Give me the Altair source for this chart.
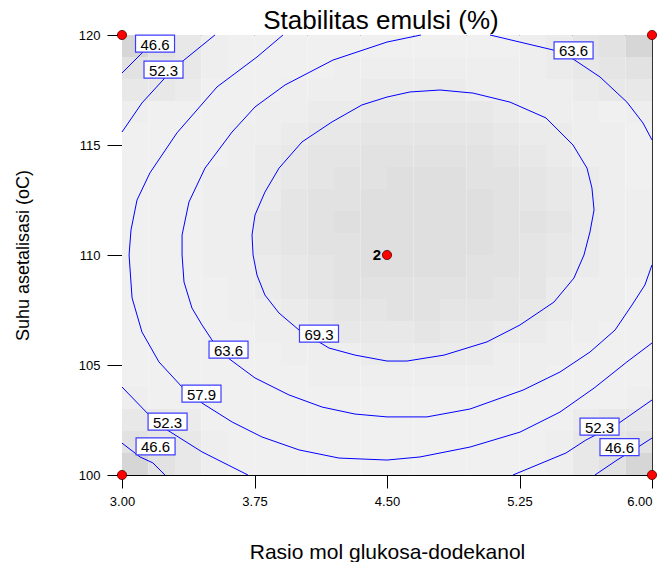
import altair as alt
import pandas as pd

# ---------------- data ----------------
TITLE = "Stabilitas emulsi (%)"
X_TITLE = "Rasio mol glukosa-dodekanol"
Y_TITLE = "Suhu asetalisasi (oC)"

x_ticks = [3.00, 3.75, 4.50, 5.25, 6.00]
y_ticks = [100, 105, 110, 115, 120]
x_domain = [3.0, 6.0]
y_domain = [100.0, 120.0]

# background shading, 20 x 20 cells (top row = 120 side); digit = gray level
shade_rows = [
    "13578888888888876431",
    "34578888777777776543",
    "55688877766667777655",
    "78888776655555677787",
    "88887765544444566778",
    "88887654433333456778",
    "88877654332223345678",
    "88877643322222345677",
    "88877543222222334677",
    "88877543322222345677",
    "88877654322223345677",
    "88887654333333446778",
    "88887765443344456778",
    "88888776555455667788",
    "88888877766666777888",
    "88888887777777778888",
    "78888888888888888887",
    "55688888888888888655",
    "34578888888888887543",
    "13578888888888887531",
]
gray_levels = ["#d2d2d2", "#d6d6d6", "#dfdfdf", "#e2e2e2", "#e5e5e5",
               "#e8e8e8", "#ebebeb", "#eeeeee", "#f0f0f0", "#f2f2f2"]

# contour pieces (x = rasio mol, y = suhu)
c466_top_left = [(3.000, 118.27), (3.119, 119.23), (3.215, 120.0)]
c523_top_left = [(3.000, 115.59), (3.113, 116.91), (3.243, 118.05), (3.351, 118.86), (3.526, 120.0)]
c579 = [(3.911, 120.0), (3.764, 119.0), (3.538, 117.64), (3.311, 115.55), (3.158, 113.73),
        (3.085, 112.5), (3.051, 111.14), (3.040, 110.0), (3.057, 108.05), (3.113, 106.5),
        (3.209, 105.14), (3.340, 104.0), (3.453, 103.27), (3.623, 102.41), (3.792, 101.73),
        (4.002, 101.14), (4.228, 100.77), (4.500, 100.68), (4.687, 100.82), (4.970, 101.27),
        (5.253, 101.95), (5.479, 102.86), (5.672, 103.95), (5.858, 105.14), (6.000, 106.0)]
c523_bottom_left = [(3.000, 104.0), (3.142, 102.82), (3.255, 102.05), (3.453, 101.05), (3.713, 100.0)]
c466_bottom_left = [(3.000, 101.45), (3.102, 100.82), (3.175, 100.55), (3.243, 100.0)]
c523_bottom_right = [(5.213, 100.0), (5.513, 101.0), (5.626, 101.59), (5.813, 102.36), (6.000, 103.41)]
c466_bottom_right = [(5.677, 100.0), (5.802, 100.68), (5.921, 101.27), (6.000, 101.68)]
c636_main = [(4.692, 120.0), (4.500, 119.68), (4.194, 118.86), (3.923, 117.73), (3.753, 116.73),
             (3.623, 115.59), (3.470, 113.95), (3.379, 112.41), (3.340, 110.91), (3.340, 110.0),
             (3.351, 108.77), (3.396, 107.59), (3.453, 106.82), (3.509, 106.14), (3.600, 105.32),
             (3.753, 104.41), (3.945, 103.64), (4.132, 103.09), (4.319, 102.77), (4.500, 102.64),
             (4.726, 102.64), (4.970, 103.0), (5.270, 103.86), (5.479, 104.68), (5.649, 105.59),
             (5.791, 106.59), (5.887, 107.73), (5.960, 108.64), (6.000, 109.55)]
c636_top_right = [(5.083, 120.0), (5.440, 119.32), (5.553, 118.91), (5.706, 118.09),
                  (5.858, 116.95), (5.949, 116.0), (6.000, 115.23)]
c693 = [(4.800, 117.5), (4.987, 117.36), (5.196, 116.95), (5.400, 116.23), (5.553, 115.0),
        (5.632, 113.95), (5.660, 113.05), (5.672, 112.05), (5.649, 111.05), (5.615, 110.0),
        (5.558, 108.95), (5.445, 107.86), (5.253, 106.82), (5.066, 106.05), (4.823, 105.45),
        (4.613, 105.18), (4.500, 105.18), (4.319, 105.45), (4.172, 105.77), (4.002, 106.59),
        (3.889, 107.36), (3.809, 108.18), (3.764, 109.09), (3.742, 110.0), (3.736, 110.91),
        (3.753, 111.82), (3.809, 112.86), (3.889, 113.95), (4.019, 115.14), (4.189, 116.05),
        (4.358, 116.82), (4.500, 117.18), (4.630, 117.41), (4.800, 117.5)]

contour_pieces = {
    "466a": c466_top_left, "523a": c523_top_left, "579": c579,
    "523b": c523_bottom_left, "466b": c466_bottom_left,
    "523c": c523_bottom_right, "466c": c466_bottom_right,
    "636a": c636_main, "636b": c636_top_right, "693": c693,
}

label_text = ["46.6", "52.3", "63.6", "69.3", "63.6", "57.9", "52.3", "46.6", "52.3", "46.6"]
label_x = [3.187, 3.235, 5.556, 4.115, 3.603, 3.450, 3.258, 3.190, 5.703, 5.816]
label_y = [119.61, 118.43, 119.30, 106.43, 105.70, 103.70, 102.43, 101.30, 102.20, 101.27]

design_x = [3.0, 3.0, 6.0, 6.0, 4.5]
design_y = [100.0, 120.0, 100.0, 120.0, 110.0]
center_count = "2"

# ---------------- tables ----------------
n_cols = len(shade_rows[0])
n_rows = len(shade_rows)
cw = (x_domain[1] - x_domain[0]) / n_cols
ch = (y_domain[1] - y_domain[0]) / n_rows
cells = []
for j, row in enumerate(shade_rows):
    for i, c in enumerate(row):
        cells.append({
            "x": x_domain[0] + i * cw, "x2": x_domain[0] + (i + 1) * cw,
            "y": y_domain[1] - j * ch, "y2": y_domain[1] - (j + 1) * ch,
            "g": gray_levels[int(c)],
        })
cells_df = pd.DataFrame(cells)

lines = []
for name, pts in contour_pieces.items():
    for k, (px, py) in enumerate(pts):
        lines.append({"piece": name, "o": k, "x": px, "y": py})
lines_df = pd.DataFrame(lines)

labels_df = pd.DataFrame({"x": label_x, "y": label_y, "t": label_text})
points_df = pd.DataFrame({"x": design_x, "y": design_y})
center_df = pd.DataFrame({"x": [design_x[-1]], "y": [design_y[-1]], "t": [center_count]})

FONT = "Liberation Sans"

X = alt.X("x:Q", scale=alt.Scale(domain=x_domain, nice=False, zero=False),
          axis=alt.Axis(values=x_ticks, format=".2f", title=X_TITLE, grid=False,
                        labelFont=FONT, labelFontSize=13, labelColor="#000",
                        labelAlign={"condition": {"test": "datum.value >= 6", "value": "right"},
                                    "value": "center"},
                        labelPadding=7, tickSize=13, tickColor="#000", domainColor="#000",
                        labelFlush=False, titleFont=FONT, titleFontSize=21,
                        titleFontWeight="normal", titleColor="#000",
                        titleY=83, titleBaseline="alphabetic"))
Y = alt.Y("y:Q", scale=alt.Scale(domain=y_domain, nice=False, zero=False),
          axis=alt.Axis(values=y_ticks, format="d", title=Y_TITLE, grid=False,
                        labelFont=FONT, labelFontSize=13, labelColor="#000",
                        labelPadding=7, tickSize=15, tickColor="#000", domainColor="#000",
                        labelFlush=False, titleFont=FONT, titleFontSize=18,
                        titleFontWeight="normal", titleColor="#000",
                        titleX=-99, titleY=220, titleAngle=270, titleBaseline="middle",
                        titleAlign="center"))

shade = alt.Chart(cells_df).mark_rect(strokeWidth=0).encode(
    x=X, x2="x2:Q", y=Y, y2="y2:Q", color=alt.Color("g:N", scale=None))

contours = alt.Chart(lines_df).mark_line(color="#0000ff", strokeWidth=1).encode(
    x=X, y=Y, detail="piece:N", order="o:Q")

boxes = alt.Chart(labels_df).mark_point(
    shape="M-1,-0.436H1V0.436H-1Z", size=1521, filled=True, fill="#ffffff",
    stroke="#3c3cff", strokeWidth=1.2, opacity=1).encode(x=X, y=Y)

texts = alt.Chart(labels_df).mark_text(
    font=FONT, fontSize=15, color="#000", align="center", baseline="middle", dy=1).encode(
    x=X, y=Y, text="t:N")

pts = alt.Chart(points_df).mark_point(
    shape="circle", filled=True, fill="#ff0000", stroke="#500000", strokeWidth=0.8,
    size=85, opacity=1).encode(x=X, y=Y)

center_lbl = alt.Chart(center_df).mark_text(
    font=FONT, fontSize=15, fontWeight="bold", color="#000", align="right",
    baseline="middle", dx=-6).encode(x=X, y=Y, text="t:N")

chart = alt.layer(shade, contours, boxes, texts, pts, center_lbl).properties(
    width=530, height=440,
    title=alt.TitleParams(TITLE, font=FONT, fontSize=26, fontWeight="normal", color="#000",
                          anchor="middle", frame="group", offset=0, dx=-6, dy=5),
    autosize=alt.AutoSizeParams(type="none"),
    padding={"left": 114, "top": 27, "right": 6, "bottom": 87},
).configure_view(stroke="#333333", strokeWidth=1)

chart.save("out.html", embed_options={"renderer": "svg", "actions": False})
